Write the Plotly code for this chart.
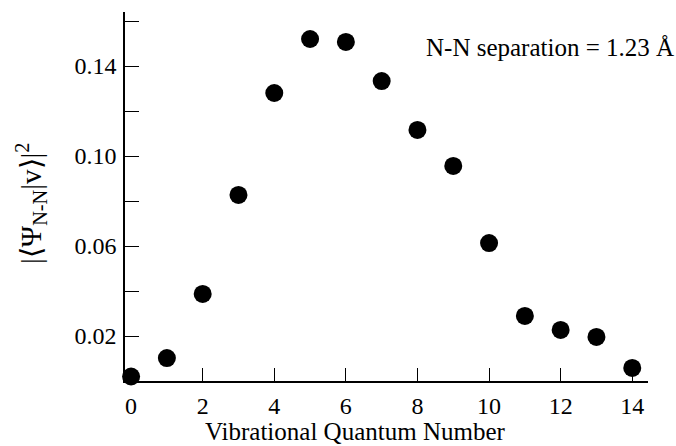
import plotly.graph_objects as go

v = list(range(15))
overlap = [0.002, 0.0102, 0.0387, 0.0827, 0.128, 0.152, 0.1507, 0.1333,
           0.1116, 0.0956, 0.0613, 0.0289, 0.0227, 0.0196, 0.0058]

x_ticks = [0, 2, 4, 6, 8, 10, 12, 14]
y_ticks = [0.02, 0.06, 0.10, 0.14]
y_labels = ["0.02", "0.06", "0.10", "0.14"]
y_minor_step = 0.02

FONT = "Liberation Serif"

fig = go.Figure()
fig.add_trace(go.Scatter(
    x=v, y=overlap, mode="markers",
    marker=dict(size=18, color="black"),
    cliponaxis=False, showlegend=False,
))

plot_h = 446 - 12 - 65

fig.update_layout(
    width=676, height=446,
    margin=dict(l=125, r=28, t=12, b=65),
    paper_bgcolor="white", plot_bgcolor="white",
    font=dict(family=FONT, size=24, color="black"),
    xaxis=dict(
        range=[-0.17, 14.44], tickvals=x_ticks, ticktext=[str(t) for t in x_ticks],
        ticks="inside", ticklen=13, tickwidth=1.3, tickcolor="black",
        showline=True, linecolor="black", linewidth=1.5, showgrid=False, zeroline=False,
        ticklabelstandoff=2,
    ),
    yaxis=dict(
        range=[0, 0.164], tickvals=y_ticks, ticktext=y_labels,
        ticks="inside", ticklen=14, tickwidth=1.3, tickcolor="black",
        showline=True, linecolor="black", linewidth=1.5, showgrid=False, zeroline=False,
        ticklabelstandoff=2,
        minor=dict(tick0=0, dtick=y_minor_step, ticks="inside", ticklen=14,
                   tickwidth=1.3, tickcolor="black", showgrid=False),
    ),
    annotations=[
        dict(text="Vibrational Quantum Number", xref="paper", yref="paper",
             x=(355 - 125) / (676 - 125 - 28), y=0, xanchor="center", yanchor="middle",
             yshift=-50, showarrow=False, font=dict(size=25)),
        dict(text="N-N separation = 1.23 Å", xref="paper", yref="paper",
             x=1.0, y=(plot_h - 48 + 12) / plot_h, xanchor="right", yanchor="middle",
             xshift=28, showarrow=False, font=dict(size=25)),
        dict(text="|⟨Ψ<sub>N-N</sub>|v⟩|<sup>2</sup>", xref="paper", yref="paper",
             x=0, y=(plot_h - 203 + 12) / plot_h, xanchor="center", yanchor="middle",
             xshift=-94, textangle=-90, showarrow=False, font=dict(size=29)),
    ],
)

fig.write_html("out.html")
